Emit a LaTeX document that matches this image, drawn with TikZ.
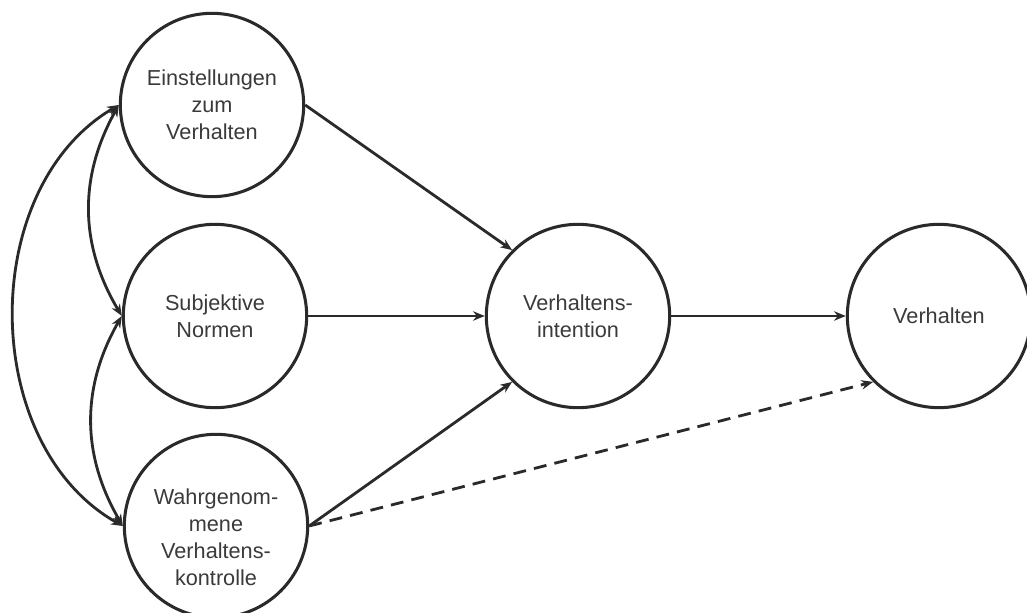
\documentclass[tikz,border=0pt]{standalone}
\usepackage{fontspec}
\setmainfont{Liberation Sans}
\usetikzlibrary{arrows.meta}
\definecolor{ln}{HTML}{2A2A2A}
\definecolor{tx}{HTML}{3A3A3A}
\begin{document}
\begin{tikzpicture}[x=0.03cm,y=0.03cm,
 lbl/.style={align=center, text=tx, font=\fontsize{18.5}{23}\selectfont},
 ball/.style={circle, draw=ln, line width=2.6pt, minimum size=5.5cm, inner sep=0pt, lbl},
 conn/.style={draw=ln, line width=2.4pt, -{Stealth[length=10pt,width=8pt]}},
 dconn/.style={conn, dash pattern=on 11pt off 7pt},
 dbl/.style={draw=ln, line width=2.4pt, {Stealth[length=10pt,width=8pt]}-{Stealth[length=10pt,width=8pt]}}]
\useasboundingbox (0,0) rectangle (1027,613);
\node[ball] (E) at (212,508) {Einstellungen\\zum\\Verhalten};
\node[ball] (S) at (215,297) {Subjektive\\Normen};
\node[ball] (W) at (216,87) {};
\node[lbl] (Wt) at (216,76) {Wahrgenom-\\mene\\Verhaltens-\\kontrolle};
\node[ball] (I) at (578,297) {Verhaltens-\\intention};
\node[ball] (V) at (939,297) {Verhalten};
\draw[conn] (E.east) -- (I.135);
\draw[conn] (S.east) -- (I.west);
\draw[conn] (W.east) -- (I.225);
\draw[conn] (I.east) -- (V.west);
\draw[dconn] (W.east) -- (V.225);
\draw[dbl] (E.west) to[bend right=60] (W.west);
\draw[dbl] (E.west) to[bend right=30] (S.west);
\draw[dbl] (S.west) to[bend right=30] (W.west);
\end{tikzpicture}
\end{document}
